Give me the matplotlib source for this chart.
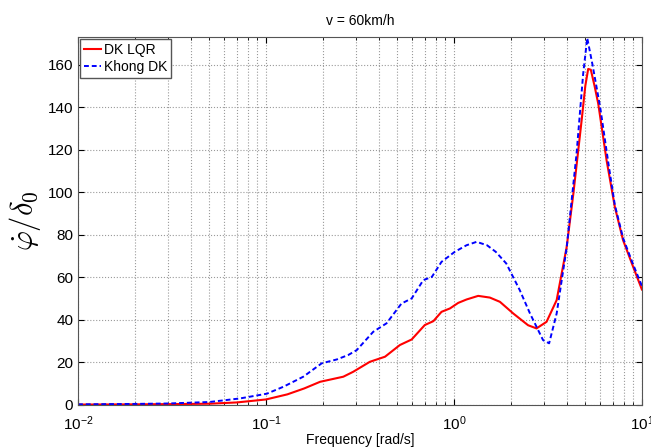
import matplotlib
matplotlib.use('Agg')
import matplotlib.pyplot as plt
from matplotlib.ticker import LogLocator, NullFormatter

plt.rcParams['font.family'] = ['Liberation Sans', 'DejaVu Sans']
plt.rcParams['mathtext.fontset'] = 'cm'

# Frequency response with LQR control
freq_lqr = [0.01, 0.02, 0.03, 0.05, 0.07, 0.1, 0.13, 0.16, 0.194, 0.258, 0.291, 0.357,
            0.43, 0.516, 0.596, 0.70, 0.777, 0.859, 0.953, 1.054, 1.167, 1.346, 1.553,
            1.757, 2.07, 2.48, 2.75, 3.11, 3.52, 3.98, 4.32, 4.78, 5.0, 5.18, 5.35,
            5.6, 5.86, 6.49, 7.18, 7.94, 8.99, 10.0]
resp_lqr = [0.2, 0.3, 0.4, 0.6, 1.2, 2.6, 5.0, 7.8, 10.9, 13.3, 15.6, 20.3,
            22.7, 28.2, 30.8, 37.6, 39.4, 43.8, 45.4, 48.0, 49.6, 51.3, 50.5,
            48.5, 43.0, 37.5, 36.0, 39.1, 49.3, 74.3, 99.4, 133.8, 150.0, 158.0, 157.6,
            150.0, 141.6, 115.0, 93.1, 77.5, 64.9, 54.3]

# Frequency response without control
freq_open = [0.01, 0.02, 0.03, 0.05, 0.073, 0.101, 0.124, 0.158, 0.198, 0.238, 0.274,
             0.304, 0.372, 0.438, 0.526, 0.596, 0.687, 0.763, 0.859, 1.01, 1.167, 1.32,
             1.5, 1.67, 1.9, 2.24, 2.54, 2.98, 3.21, 3.52, 3.98, 4.49, 4.87, 5.12,
             5.46, 6.0, 6.65, 7.18, 7.94, 8.99, 10.0]
resp_open = [0.3, 0.5, 0.7, 1.4, 3.1, 5.3, 8.6, 13.3, 19.6, 21.4, 23.5,
             25.8, 34.4, 38.4, 47.7, 50.1, 58.7, 60.2, 67.3, 72.0, 75.1, 76.7,
             75.1, 72.0, 66.5, 54.0, 43.0, 30.5, 29.0, 43.0, 74.0, 118.0, 155.6, 172.5,
             160.0, 140.0, 113.0, 94.0, 78.5, 66.0, 56.0]

fig = plt.figure(figsize=(6.51, 4.48), dpi=100)
ax = fig.add_axes([0.1198, 0.096, 0.8662, 0.8214])

ax.semilogx(freq_lqr, resp_lqr, color='#ff0000', lw=1.5, label='DK LQR')
ax.semilogx(freq_open, resp_open, color='#0000ff', lw=1.4, ls=(0, (2.5, 1.5)), label='Khong DK')

ax.set_xlim(0.01, 10)
ax.set_ylim(0, 173)
ax.set_yticks(range(0, 161, 20))
ax.xaxis.set_major_locator(LogLocator(base=10, numticks=10))
ax.xaxis.set_minor_locator(LogLocator(base=10, subs=range(2, 10), numticks=20))
ax.xaxis.set_minor_formatter(NullFormatter())

ax.grid(True, which='major', color='#9a9a9a', ls=':', lw=0.8)
ax.grid(True, which='minor', axis='x', color='#9a9a9a', ls=':', lw=0.8)
ax.tick_params(which='both', direction='in', labelsize=11, top=True, right=True)
ax.tick_params(which='minor', length=2)
ax.tick_params(which='major', length=4)
ax.tick_params(axis='x', pad=7)

for s in ax.spines.values():
    s.set_color('#555555')
    s.set_linewidth(0.8)

ax.set_title('v = 60km/h', fontsize=10, pad=9)
ax.set_xlabel('Frequency [rad/s]', fontsize=10, labelpad=0)
ax.set_ylabel(r'$\dot{\varphi}/\delta_0$', fontsize=22)
ax.yaxis.set_label_coords(-0.062, 0.5)

ax.legend(loc='upper left', fontsize=10, handlelength=1.2, handletextpad=0.2,
          borderpad=0.3, borderaxespad=0.15, labelspacing=0.2, fancybox=False,
          edgecolor='#555555', framealpha=1)

fig.savefig('out.png', dpi=100)
